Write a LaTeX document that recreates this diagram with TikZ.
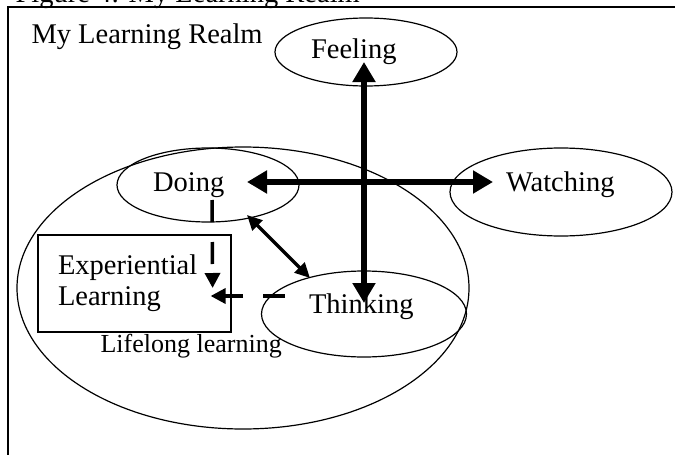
\documentclass[tikz,border=0pt]{standalone}
\usepackage{fontspec}
\setmainfont{Liberation Serif}
\usetikzlibrary{arrows.meta,shapes.geometric,calc}

\begin{document}
\begin{tikzpicture}[
    x=1pt, y=-1pt,
    txt/.style={font=\fontsize{28.5}{31}\selectfont},
    realm/.style 2 args={ellipse, draw, line width=1.2pt, inner sep=0pt,
      minimum width=#1, minimum height=#2, text width=110pt, align=left, txt},
    raised/.style={text depth=20pt},
    bigarrow/.style={{Triangle[length=20pt,width=22pt]}-{Triangle[length=20pt,width=22pt]},
      line width=6pt},
    midarrow/.style={{Triangle[length=15pt,width=14pt]}-{Triangle[length=15pt,width=14pt]},
      line width=3.5pt},
    dasharrow/.style={-{Triangle[length=15pt,width=15pt]}, line width=3.5pt,
      dash pattern=on 22pt off 20pt},
  ]
  \useasboundingbox (0,0) rectangle (675,455);

  \node[txt, anchor=base west] (caption) at (12,2) {Figure 4: My Learning Realm};
  \draw[line width=1.3pt] (8,7) rectangle (700,480);
  \node[txt, anchor=base west] (title) at (28,43) {My Learning Realm};

  \node[ellipse, draw, line width=1.2pt, minimum width=452pt, minimum height=282pt]
    (life) at (243,288) {};
  \node[font=\fontsize{26}{30}\selectfont, anchor=base west] (lifelbl) at (97,352)
    {Lifelong learning};

  \node[realm={182pt}{68pt}] (feel) at (366,52) {Feeling};
  \node[realm={222pt}{88pt}, raised] (watch) at (561,192) {Watching};
  \node[realm={182pt}{74pt}] (doing) at (208,185) {Doing};
  \node[realm={205pt}{86pt}, raised] (think) at (364,314) {Thinking};

  \node[rectangle, draw, line width=1.2pt, inner sep=0pt, minimum width=193pt,
    minimum height=97pt, text width=153pt, align=left, txt] (exper) at (134.5,283.5)
    {Experiential\\Learning};

  \draw[bigarrow] ($(doing.center)+(39,-3)$) -- ($(watch.center)+(-68,-10)$);
  \draw[bigarrow] ($(think.center)+(0,-11)$) -- ($(feel.center)+(-2,10)$);
  \draw[midarrow] ($(doing.center)+(39,30)$) -- ($(think.center)+(-54,-36)$);

  \draw[dasharrow] ($(doing.center)+(4,15)$) -- ($(exper.east)+(-19,4.5)$);
  \draw[dasharrow] ($(think.center)+(-79,-18)$) -- ($(exper.east)+(-21,12.5)$);
\end{tikzpicture}
\end{document}
